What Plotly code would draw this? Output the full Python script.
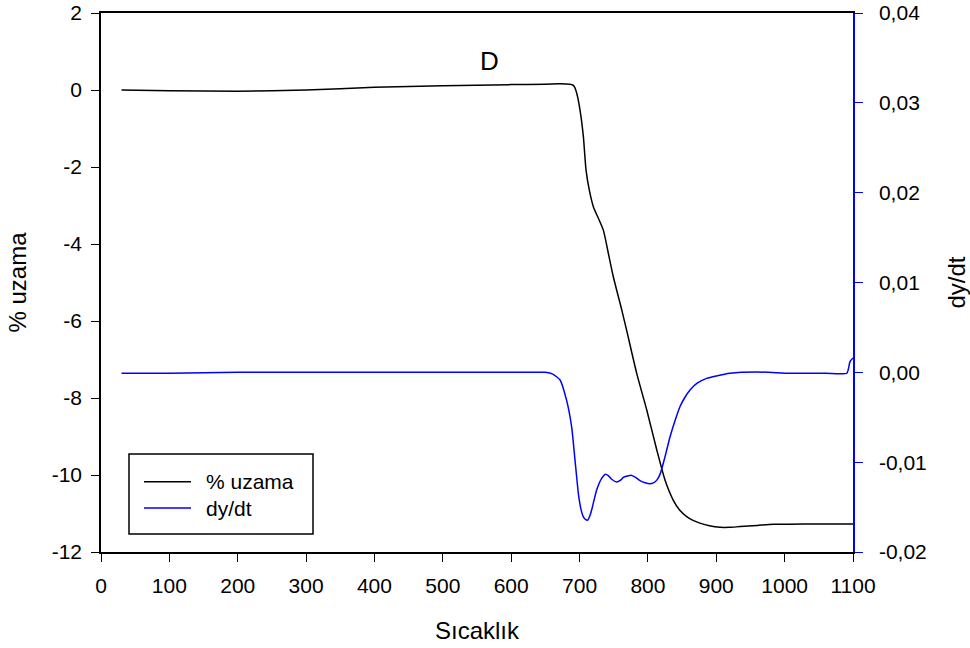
import plotly.graph_objects as go

# ---- data ----
temp_uzama = [30, 100, 200, 300, 400, 500, 600, 650, 670, 680, 686, 690, 693, 696, 700.7,
              705.6, 709.5, 714.3, 720.2, 727.5, 734.8, 742.1, 749.4, 761.7, 769, 783.6,
              798.3, 813, 825, 837, 846, 856.8, 866, 876, 890, 905.5, 920, 934.8, 960,
              983.5, 1032, 1070, 1100]
uzama = [0.0, -0.02, -0.03, 0.0, 0.07, 0.11, 0.14, 0.15, 0.16, 0.157, 0.15, 0.13, 0.07, -0.09,
         -0.52, -1.21, -2.08, -2.6, -3.03, -3.33, -3.64, -4.24, -4.85, -5.71, -6.25, -7.36,
         -8.31, -9.35, -10.13, -10.65, -10.9, -11.08, -11.18, -11.25, -11.32, -11.36,
         -11.36, -11.34, -11.31, -11.28, -11.27, -11.27, -11.27]

temp_dydt = [30, 100, 200, 300, 400, 500, 600, 650, 661, 671.5, 681, 688.5, 693.4, 698.3,
             702, 705.6, 709, 712, 715, 717.8, 721, 725, 732.4, 738.3, 742, 747, 754.4,
             760, 764, 770, 775.3, 782, 788.5, 796, 803, 808, 813, 818, 822.6, 827, 832.4,
             840, 847, 854, 861.6, 872, 886, 900, 920, 959, 1008, 1060, 1091, 1095.6, 1100]
dydt = [-0.0001, -0.0001, 0.0, 0.0, 0.0, 0.0, 0.0, 0.0, -0.0002, -0.00085, -0.0031, -0.0061,
        -0.0098, -0.0135, -0.0152, -0.0161, -0.0164, -0.01645, -0.0160, -0.0153, -0.0143,
        -0.0131, -0.0118, -0.01135, -0.0115, -0.0119, -0.0122, -0.0120, -0.0117, -0.01155,
        -0.01146, -0.0117, -0.01206, -0.0123, -0.0124, -0.0123, -0.0120, -0.0113, -0.0101,
        -0.0088, -0.00717, -0.0053, -0.0038, -0.0028, -0.00197, -0.0012, -0.00067, -0.0004,
        -0.0001, 0.00004, -0.0001, -0.0001, -0.0001, 0.0012, 0.0016]

x_ticks = list(range(0, 1101, 100))
y_ticks = [2, 0, -2, -4, -6, -8, -10, -12]
y_ticktext = ["2", "0", "-2", "-4", "-6", "-8", "-10", "-12"]
y2_ticks = [0.04, 0.03, 0.02, 0.01, 0.0, -0.01, -0.02]
y2_ticktext = ["0,04", "0,03", "0,02", "0,01", "0,00", "-0,01", "-0,02"]

series_names = ["% uzama", "dy/dt"]
series_colors = ["#000000", "#0000FF"]

FONT = "Liberation Sans, Arial, sans-serif"
TICK = 21
TITLE = 24

fig = go.Figure()
fig.add_trace(go.Scatter(x=temp_uzama, y=uzama, mode="lines", name=series_names[0],
                         line=dict(color=series_colors[0], width=1.5, shape="spline",
                                   smoothing=0.6), showlegend=False))
fig.add_trace(go.Scatter(x=temp_dydt, y=dydt, mode="lines", name=series_names[1], yaxis="y2",
                         line=dict(color=series_colors[1], width=1.5, shape="spline",
                                   smoothing=0.5), showlegend=False))

W, H = 970, 648
L, R, T, B = 101, 853, 13, 552


def px(xp):
    return (xp - L) / (R - L)


def py(yp):
    return (B - yp) / (B - T)


fig.update_layout(
    width=W, height=H,
    margin=dict(l=L, r=W - R, t=T, b=H - B, autoexpand=False),
    paper_bgcolor="white", plot_bgcolor="white",
    font=dict(family=FONT, size=TICK, color="black"),
    xaxis=dict(range=[0, 1100], tickvals=x_ticks, ticks="outside", ticklen=8,
               tickcolor="black", showline=True, linecolor="black", linewidth=1.5,
               mirror=True, showgrid=False, zeroline=False, automargin=False,
               ticklabelstandoff=6,
               title=dict(text="Sıcaklık", font=dict(size=TITLE), standoff=26),
               tickfont=dict(size=TICK)),
    yaxis=dict(range=[-12, 2], tickvals=y_ticks, ticktext=y_ticktext, ticks="outside",
               ticklen=8, tickcolor="black", showline=True, linecolor="black",
               linewidth=1.5, showgrid=False, zeroline=False, automargin=False,
               ticklabelstandoff=5,
               title=dict(text="% uzama", font=dict(size=TITLE), standoff=18),
               tickfont=dict(size=TICK)),
    yaxis2=dict(range=[-0.02, 0.04], tickvals=y2_ticks, ticktext=y2_ticktext,
                overlaying="y", side="right", ticks="outside", ticklen=8,
                tickcolor="#0000FF", showline=True, linecolor="#0000FF", linewidth=1.5,
                showgrid=False, zeroline=False, automargin=False,
                ticklabelstandoff=12,
                title=dict(text="dy/dt", font=dict(size=TITLE), standoff=25),
                tickfont=dict(size=TICK, color="black")),
)

# chart label
fig.add_annotation(x=px(489), y=py(44), xref="paper", yref="paper", text="D",
                   showarrow=False, font=dict(size=26, family=FONT, color="black"))

# legend box
fig.add_shape(type="rect", xref="paper", yref="paper", x0=px(129), x1=px(313),
              y0=py(534), y1=py(454), line=dict(color="black", width=1.5),
              fillcolor="white", layer="above")
for name, col, yy in zip(series_names, series_colors, [481.7, 508]):
    fig.add_shape(type="line", xref="paper", yref="paper", x0=px(144), x1=px(191),
                  y0=py(yy), y1=py(yy), line=dict(color=col, width=1.5), layer="above")
    fig.add_annotation(x=px(204), y=py(yy), xref="paper", yref="paper", text=name,
                       xanchor="left", yanchor="middle", showarrow=False,
                       font=dict(size=21, family=FONT, color="black"))

fig.write_html("out.html", config={"displayModeBar": False},
               post_script="document.body.style.margin='0';document.body.style.padding='0';")
